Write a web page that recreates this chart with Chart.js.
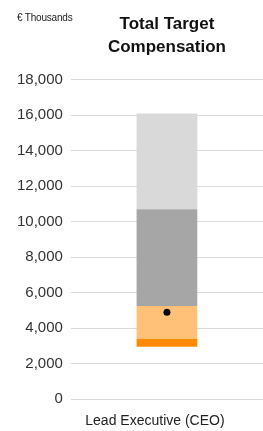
<!DOCTYPE html>
<html>
<head>
<meta charset="utf-8">
<script src="https://cdn.jsdelivr.net/npm/chart.js@4/dist/chart.umd.min.js"></script>
<style>
  html, body { margin: 0; padding: 0; background: #fff; overflow: hidden; }
  #wrap { position: relative; width: 263px; height: 431px; overflow: hidden; }
  canvas { display: block; }
  #unit {
    position: absolute; left: 17px; top: 12px;
    font: 10px "Liberation Sans", Arial, sans-serif; line-height: 12px;
    color: #222; letter-spacing: -0.2px;
  }
</style>
</head>
<body>
<div id="wrap">
  <!-- canvas is a few px wider than the frame: the plot runs off the right edge like the original -->
  <canvas id="tcChart" width="267" height="431"></canvas>
  <div id="unit">€ Thousands</div>
</div>
<script>
// Total Target Compensation — single floating stacked column
const categories = ['Lead Executive (CEO)'];
const yTicks = [0, 2000, 4000, 6000, 8000, 10000, 12000, 14000, 16000, 18000];

// band edges (€ thousands)
const bandFloor = [2950];
const band1Top = [3400];
const band2Top = [5250];
const band3Top = [10700];
const band4Top = [16100];
const markerValue = [4900];

const pair = (lo, hi) => lo.map((v, i) => [v, hi[i]]);

const FONT = '"Liberation Sans", Arial, sans-serif';

const ctx = document.getElementById('tcChart').getContext('2d');
const chart = new Chart(ctx, {
  type: 'bar',
  data: {
    labels: categories,
    datasets: [
      {
        type: 'line',
        label: 'Actual',
        data: markerValue,
        showLine: false,
        pointRadius: 3.5,
        pointBackgroundColor: '#000',
        pointBorderWidth: 0,
        order: 0
      },
      { label: 'Band 1', data: pair(bandFloor, band1Top), backgroundColor: '#FF8A00', order: 1 },
      { label: 'Band 2', data: pair(band1Top, band2Top), backgroundColor: '#FFC078', order: 1 },
      { label: 'Band 3', data: pair(band2Top, band3Top), backgroundColor: '#A6A6A6', order: 1 },
      { label: 'Band 4', data: pair(band3Top, band4Top), backgroundColor: '#D9D9D9', order: 1 }
    ]
  },
  options: {
    responsive: false,
    animation: false,
    layout: { padding: { left: 9, right: 0, top: 2, bottom: 0 } },
    datasets: { bar: { categoryPercentage: 1, barPercentage: 0.316, borderWidth: 0 } },
    plugins: {
      legend: { display: false },
      tooltip: { enabled: false },
      title: {
        display: true,
        fullSize: false,
        text: ['Total Target', 'Compensation'],
        color: '#111',
        font: { family: FONT, size: 17, weight: 'bold', lineHeight: 1.35 },
        padding: { top: 11, bottom: 21 }
      }
    },
    scales: {
      x: {
        stacked: true,
        grid: { display: false, drawTicks: false },
        border: { display: false },
        afterFit: axis => {
          axis.height = 32;
          axis.paddingLeft = 0;
          axis.paddingRight = 0;
        },
        ticks: {
          color: '#222',
          font: { family: FONT, size: 14 },
          padding: 14,
          labelOffset: -12,
          maxRotation: 0
        }
      },
      y: {
        stacked: false,
        min: yTicks[0],
        max: yTicks[yTicks.length - 1],
        afterBuildTicks: axis => { axis.ticks = yTicks.map(v => ({ value: v })); },
        grid: { color: '#D9D9D9', lineWidth: 1, drawTicks: false },
        border: { display: false },
        ticks: {
          color: '#333',
          font: { family: FONT, size: 15 },
          padding: 8,
          callback: v => v.toLocaleString('en-US')
        }
      }
    }
  }
});
</script>
</body>
</html>
